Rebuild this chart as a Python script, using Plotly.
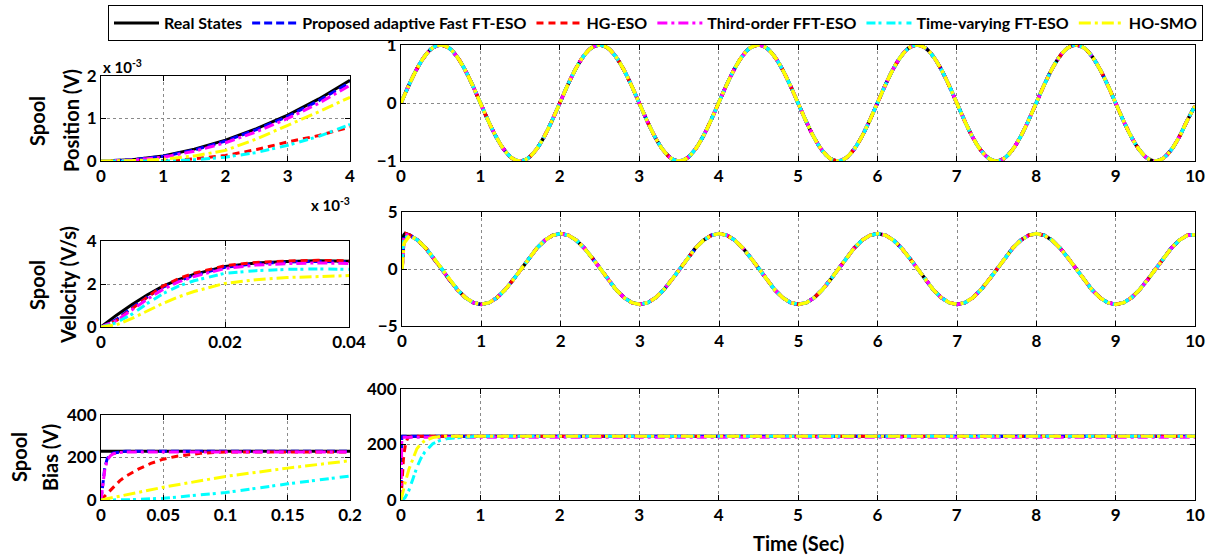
import plotly.graph_objects as go

# ---------------- data ----------------
SERIES_NAMES = ["Real States", "Proposed adaptive Fast FT-ESO", "HG-ESO",
                "Third-order FFT-ESO", "Time-varying FT-ESO", "HO-SMO"]

# Spool position, zoomed start (time in ms, value in 1e-3 V)
T_POS_ZOOM_MS = [0, 0.5, 1, 1.5, 2, 2.5, 3, 3.5, 4]
POS_ZOOM_REAL = [0, 0.03, 0.12, 0.28, 0.49, 0.76, 1.08, 1.46, 1.90]
POS_ZOOM_PROP = [0, 0.03, 0.11, 0.26, 0.47, 0.74, 1.05, 1.42, 1.85]
POS_ZOOM_HG = [0, 0.0, 0.01, 0.05, 0.13, 0.27, 0.45, 0.60, 0.80]
POS_ZOOM_THIRD = [0, 0.02, 0.09, 0.23, 0.43, 0.69, 1.00, 1.36, 1.78]
POS_ZOOM_TV = [0, 0.0, 0.0, 0.03, 0.09, 0.20, 0.37, 0.58, 0.86]
POS_ZOOM_HOSMO = [0, 0.01, 0.04, 0.12, 0.25, 0.52, 0.84, 1.16, 1.50]

# Spool position, full run (s, V)
T_MAIN = [0.0, 0.1, 0.2, 0.3, 0.4, 0.5, 0.6, 0.7, 0.8, 0.9,
          1.0, 1.1, 1.2, 1.3, 1.4, 1.5, 1.6, 1.7, 1.8, 1.9,
          2.0, 2.1, 2.2, 2.3, 2.4, 2.5, 2.6, 2.7, 2.8, 2.9,
          3.0, 3.1, 3.2, 3.3, 3.4, 3.5, 3.6, 3.7, 3.8, 3.9,
          4.0, 4.1, 4.2, 4.3, 4.4, 4.5, 4.6, 4.7, 4.8, 4.9,
          5.0, 5.1, 5.2, 5.3, 5.4, 5.5, 5.6, 5.7, 5.8, 5.9,
          6.0, 6.1, 6.2, 6.3, 6.4, 6.5, 6.6, 6.7, 6.8, 6.9,
          7.0, 7.1, 7.2, 7.3, 7.4, 7.5, 7.6, 7.7, 7.8, 7.9,
          8.0, 8.1, 8.2, 8.3, 8.4, 8.5, 8.6, 8.7, 8.8, 8.9,
          9.0, 9.1, 9.2, 9.3, 9.4, 9.5, 9.6, 9.7, 9.8, 9.9, 10.0]
POS_MAIN = [0.0, 0.309, 0.588, 0.809, 0.951, 1.0, 0.951, 0.809, 0.588, 0.309,
            0.0, -0.309, -0.588, -0.809, -0.951, -1.0, -0.951, -0.809, -0.588, -0.309,
            0.0, 0.309, 0.588, 0.809, 0.951, 1.0, 0.951, 0.809, 0.588, 0.309,
            0.0, -0.309, -0.588, -0.809, -0.951, -1.0, -0.951, -0.809, -0.588, -0.309,
            0.0, 0.309, 0.588, 0.809, 0.951, 1.0, 0.951, 0.809, 0.588, 0.309,
            0.0, -0.309, -0.588, -0.809, -0.951, -1.0, -0.951, -0.809, -0.588, -0.309,
            0.0, 0.309, 0.588, 0.809, 0.951, 1.0, 0.951, 0.809, 0.588, 0.309,
            0.0, -0.309, -0.588, -0.809, -0.951, -1.0, -0.951, -0.809, -0.588, -0.309,
            0.0, 0.309, 0.588, 0.809, 0.951, 1.0, 0.951, 0.809, 0.588, 0.309,
            0.0, -0.309, -0.588, -0.809, -0.951, -1.0, -0.951, -0.809, -0.588, -0.309, -0.05]

# Spool velocity: start transient (s, V/s)
T_VEL_START = [0, 0.0025, 0.005, 0.0075, 0.01, 0.0125, 0.015, 0.02, 0.025, 0.03, 0.035, 0.04]
VEL_START_REAL = [0, 0.55, 1.05, 1.50, 1.90, 2.20, 2.45, 2.82, 2.98, 3.05, 3.08, 3.10]
VEL_START_PROP = [0, 0.35, 0.90, 1.40, 1.85, 2.15, 2.40, 2.78, 2.95, 3.02, 3.05, 3.07]
VEL_START_HG = [0, 0.30, 0.85, 1.40, 1.90, 2.25, 2.50, 2.85, 3.00, 3.07, 3.10, 3.12]
VEL_START_THIRD = [0, 0.30, 0.80, 1.30, 1.75, 2.10, 2.35, 2.72, 2.88, 2.95, 2.98, 3.00]
VEL_START_TV = [0, 0.20, 0.60, 1.10, 1.55, 1.90, 2.15, 2.50, 2.62, 2.68, 2.70, 2.72]
VEL_START_HOSMO = [0, 0.10, 0.40, 0.75, 1.10, 1.40, 1.65, 2.03, 2.20, 2.30, 2.35, 2.38]
# Spool velocity after 0.1 s (times T_MAIN[1:])
VEL_MAIN_TAIL = [2.95, 2.51, 1.82, 0.96, 0.0, -0.96, -1.82, -2.51, -2.95, -3.1,
                 -2.95, -2.51, -1.82, -0.96, 0.0, 0.96, 1.82, 2.51, 2.95, 3.1,
                 2.95, 2.51, 1.82, 0.96, 0.0, -0.96, -1.82, -2.51, -2.95, -3.1,
                 -2.95, -2.51, -1.82, -0.96, 0.0, 0.96, 1.82, 2.51, 2.95, 3.1,
                 2.95, 2.51, 1.82, 0.96, 0.0, -0.96, -1.82, -2.51, -2.95, -3.1,
                 -2.95, -2.51, -1.82, -0.96, 0.0, 0.96, 1.82, 2.51, 2.95, 3.1,
                 2.95, 2.51, 1.82, 0.96, 0.0, -0.96, -1.82, -2.51, -2.95, -3.1,
                 -2.95, -2.51, -1.82, -0.96, 0.0, 0.96, 1.82, 2.51, 2.95, 3.1,
                 2.95, 2.51, 1.82, 0.96, 0.0, -0.96, -1.82, -2.51, -2.95, -3.1,
                 -2.95, -2.51, -1.82, -0.96, 0.0, 0.96, 1.82, 2.51, 2.95, 3.0]

# Spool bias (s, V)
T_BIAS_REAL = [0, 10]
BIAS_REAL = [230, 230]
T_BIAS_PROP = [0, 0.001, 0.002, 0.003, 0.005, 0.0075, 0.01, 0.015, 0.02, 10]
BIAS_PROP = [0, 60, 110, 150, 195, 212, 221, 227, 230, 230]
T_BIAS_HG = [0, 0.005, 0.01, 0.015, 0.02, 0.03, 0.04, 0.05, 0.06, 0.08, 0.1, 0.15, 0.2, 10]
BIAS_HG = [0, 30, 60, 90, 112, 145, 172, 192, 205, 220, 226, 229, 230, 230]
T_BIAS_THIRD = [0, 0.001, 0.002, 0.003, 0.005, 0.0075, 0.01, 0.015, 0.02, 10]
BIAS_THIRD = [0, 50, 100, 140, 188, 208, 218, 224, 226, 226]
T_BIAS_TV = [0, 0.02, 0.05, 0.1, 0.15, 0.2, 0.25, 0.3, 0.4, 0.5, 0.6, 0.8, 1.0, 10]
BIAS_TV = [0, 1, 8, 35, 76, 118, 150, 173, 203, 216, 222, 227, 230, 230]
T_BIAS_HOSMO = [0, 0.02, 0.05, 0.1, 0.15, 0.2, 0.25, 0.3, 0.4, 0.5, 0.6, 10]
BIAS_HOSMO = [0, 25, 60, 111, 150, 185, 202, 214, 225, 229, 230, 230]

# ---------------- styles ----------------
COLORS = ["#000000", "#0000FF", "#FF0000", "#FF00FF", "#00FFFF", "#FFFF00"]
DASHES = ["solid", "8px,4px", "7px,5px", "10px,4px,3px,4px", "9px,3px,3px,5px", "12px,4px,3px,4px"]
LW = 3
FONT = "Lato"
W, H = 1220, 558

T_MAIN_TAIL = T_MAIN[1:]
T_VEL_FULL = T_VEL_START + T_MAIN_TAIL

pos_zoom = [POS_ZOOM_REAL, POS_ZOOM_PROP, POS_ZOOM_HG, POS_ZOOM_THIRD, POS_ZOOM_TV, POS_ZOOM_HOSMO]
vel_start = [VEL_START_REAL, VEL_START_PROP, VEL_START_HG, VEL_START_THIRD, VEL_START_TV, VEL_START_HOSMO]
bias_t = [T_BIAS_REAL, T_BIAS_PROP, T_BIAS_HG, T_BIAS_THIRD, T_BIAS_TV, T_BIAS_HOSMO]
bias_v = [BIAS_REAL, BIAS_PROP, BIAS_HG, BIAS_THIRD, BIAS_TV, BIAS_HOSMO]

fig = go.Figure()


def add(i, x, y, ax, legend=False, shape="linear", width=LW):
    fig.add_trace(go.Scatter(
        x=x, y=y, mode="lines", name=SERIES_NAMES[i],
        line=dict(color=COLORS[i], width=width, dash=DASHES[i], shape=shape),
        xaxis="x" + ax, yaxis="y" + ax, showlegend=legend, hoverinfo="skip"))


for i in range(6):
    add(i, T_POS_ZOOM_MS, pos_zoom[i], "", legend=True)
for i in range(6):
    add(i, T_MAIN, POS_MAIN, "2", shape="spline", width=3.5)
for i in range(6):
    add(i, T_VEL_FULL, vel_start[i] + VEL_MAIN_TAIL, "3")
for i in range(6):
    add(i, T_VEL_FULL, vel_start[i] + VEL_MAIN_TAIL, "4", width=3.5)
for i in range(6):
    add(i, bias_t[i], bias_v[i], "5")
for i in range(6):
    add(i, bias_t[i], bias_v[i], "6")

# panel boxes in pixels: left, right, top, bottom
PANELS = {
    "": (101, 350, 76, 161),
    "2": (401, 1195, 45, 161),
    "3": (101, 349, 241, 327),
    "4": (402, 1195, 212, 326),
    "5": (101, 350, 415, 500),
    "6": (401, 1195, 389, 500),
}
XR = {"": ([0, 4], [0, 1, 2, 3, 4]),
      "2": ([0, 10], list(range(11))),
      "3": ([0, 0.04], [0, 0.02, 0.04]),
      "4": ([0, 10], list(range(11))),
      "5": ([0, 0.2], [0, 0.05, 0.1, 0.15, 0.2]),
      "6": ([0, 10], list(range(11)))}
YR = {"": ([0, 2], [0, 1, 2]),
      "2": ([-1, 1], [-1, 0, 1]),
      "3": ([0, 4], [0, 2, 4]),
      "4": ([-5, 5], [-5, 0, 5]),
      "5": ([0, 400], [0, 200, 400]),
      "6": ([0, 400], [0, 200, 400])}

tickfont = dict(family=FONT, size=17, color="black", weight="bold")
axcommon = dict(showline=True, linecolor="black", linewidth=1, mirror="ticks",
                ticks="inside", ticklen=5, tickcolor="black", showgrid=True,
                gridcolor="#8a8a8a", griddash="dot", gridwidth=1, zeroline=False,
                tickfont=tickfont, automargin=False)

layout = {}
for key, (l, r, t, b) in PANELS.items():
    xname = "xaxis" + key
    yname = "yaxis" + key
    xr, xt = XR[key]
    yr, yt = YR[key]
    layout[xname] = dict(domain=[l / W, r / W], range=xr, tickvals=xt,
                         anchor="y" + key, **axcommon)
    layout[yname] = dict(domain=[1 - b / H, 1 - t / H], range=yr, tickvals=yt,
                         anchor="x" + key, **axcommon)

fig.update_layout(**layout)

lab = dict(family=FONT, size=20, color="black", weight="bold")


def ylab(text, xpx, ypx):
    fig.add_annotation(text=text, x=xpx / W, y=1 - ypx / H, xref="paper", yref="paper",
                       showarrow=False, textangle=-90, font=lab,
                       xanchor="center", yanchor="middle")


ylab("Spool", 37, 121)
ylab("Position (V)", 71, 121)
ylab("Spool", 37, 285)
ylab("Velocity (V/s)", 68, 285)
ylab("Spool", 19, 457)
ylab("Bias (V)", 50, 457)

fig.add_annotation(text="Time (Sec)", x=798 / W, y=1 - 543 / H, xref="paper", yref="paper",
                   showarrow=False, font=lab, xanchor="center", yanchor="middle")

expfont = dict(family=FONT, size=15, color="black", weight="bold")
fig.add_annotation(text="x 10<sup>-3</sup>", x=101 / W, y=1 - 66 / H, xref="paper", yref="paper",
                   showarrow=False, font=expfont, xanchor="left", yanchor="middle")
fig.add_annotation(text="x 10<sup>-3</sup>", x=352 / W, y=1 - 204 / H, xref="paper", yref="paper",
                   showarrow=False, font=expfont, xanchor="right", yanchor="middle")

fig.update_layout(
    width=W, height=H, margin=dict(l=0, r=0, t=0, b=0, autoexpand=False),
    paper_bgcolor="white", plot_bgcolor="white",
    legend=dict(orientation="h", x=108 / W, y=1 - 5 / H, xanchor="left", yanchor="top",
                bordercolor="black", borderwidth=1, bgcolor="white",
                font=dict(family=FONT, size=16, color="black", weight="bold"),
                itemwidth=45, tracegroupgap=0),
)

fig.write_html(
    "out.html",
    config={"displayModeBar": False},
    post_script="document.body.style.margin='0';document.body.style.overflow='hidden';",
)
